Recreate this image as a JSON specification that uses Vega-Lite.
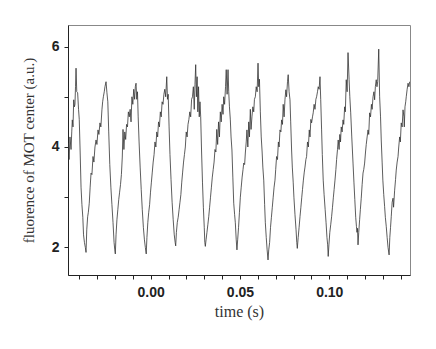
{
  "$schema": "https://vega.github.io/schema/vega-lite/v6.json",
  "width": 342,
  "height": 250,
  "autosize": {"type": "none"},
  "padding": {"left": 68, "top": 25, "right": 26, "bottom": 74},
  "background": "white",
  "config": {
    "view": {"stroke": "#888888", "strokeWidth": 1},
    "axis": {"grid": false, "domainColor": "#222222", "tickColor": "#222222", "labelColor": "#222222", "titleColor": "#333333"}
  },
  "data": {"values": [
    {"t": -0.0462, "v": 4.08}, {"t": -0.0457, "v": 3.75}, {"t": -0.0452, "v": 4.2}, {"t": -0.0446, "v": 3.95}, {"t": -0.0442, "v": 4.3}, {"t": -0.0439, "v": 4.54}, {"t": -0.0435, "v": 4.4}, {"t": -0.0431, "v": 4.94}, {"t": -0.0427, "v": 4.8}, {"t": -0.0424, "v": 4.85}, {"t": -0.0421, "v": 5.2}, {"t": -0.0418, "v": 5.57},
    {"t": -0.0414, "v": 5.1}, {"t": -0.0409, "v": 5.08}, {"t": -0.0404, "v": 4.75}, {"t": -0.0400, "v": 4.55}, {"t": -0.0395, "v": 3.9}, {"t": -0.0390, "v": 3.2}, {"t": -0.0385, "v": 2.85}, {"t": -0.0380, "v": 2.6}, {"t": -0.0376, "v": 2.25}, {"t": -0.0371, "v": 2.1}, {"t": -0.0366, "v": 2.0}, {"t": -0.0362, "v": 1.9},
    {"t": -0.0358, "v": 2.35}, {"t": -0.0353, "v": 2.61}, {"t": -0.0349, "v": 2.7}, {"t": -0.0344, "v": 2.88}, {"t": -0.0339, "v": 3.2}, {"t": -0.0334, "v": 3.48}, {"t": -0.0329, "v": 3.45}, {"t": -0.0323, "v": 3.81}, {"t": -0.0318, "v": 3.7}, {"t": -0.0312, "v": 4.0}, {"t": -0.0306, "v": 4.14}, {"t": -0.0301, "v": 4.05}, {"t": -0.0295, "v": 4.34}, {"t": -0.0290, "v": 4.25}, {"t": -0.0284, "v": 4.48}, {"t": -0.0279, "v": 4.4}, {"t": -0.0273, "v": 4.74}, {"t": -0.0269, "v": 4.9}, {"t": -0.0265, "v": 5.0}, {"t": -0.0260, "v": 5.1}, {"t": -0.0256, "v": 5.2}, {"t": -0.0250, "v": 5.3}, {"t": -0.0245, "v": 5.08}, {"t": -0.0240, "v": 4.9}, {"t": -0.0235, "v": 4.3}, {"t": -0.0229, "v": 3.65}, {"t": -0.0223, "v": 3.2}, {"t": -0.0217, "v": 2.85}, {"t": -0.0211, "v": 2.5}, {"t": -0.0205, "v": 2.1}, {"t": -0.0201, "v": 1.95}, {"t": -0.0198, "v": 1.87},
    {"t": -0.0194, "v": 2.25}, {"t": -0.0189, "v": 2.55}, {"t": -0.0184, "v": 2.75}, {"t": -0.0179, "v": 2.95}, {"t": -0.0174, "v": 3.1}, {"t": -0.0169, "v": 3.25}, {"t": -0.0164, "v": 3.45}, {"t": -0.0159, "v": 3.8}, {"t": -0.0155, "v": 4.35}, {"t": -0.0150, "v": 3.95}, {"t": -0.0145, "v": 4.3}, {"t": -0.0140, "v": 4.15}, {"t": -0.0135, "v": 4.45}, {"t": -0.0130, "v": 4.4}, {"t": -0.0125, "v": 4.7}, {"t": -0.0120, "v": 4.6}, {"t": -0.0115, "v": 4.75}, {"t": -0.0110, "v": 4.5}, {"t": -0.0105, "v": 5.0}, {"t": -0.0100, "v": 4.85}, {"t": -0.0095, "v": 5.15}, {"t": -0.0090, "v": 4.95}, {"t": -0.0086, "v": 5.2}, {"t": -0.0082, "v": 5.27}, {"t": -0.0078, "v": 4.95}, {"t": -0.0074, "v": 5.1}, {"t": -0.0070, "v": 4.6}, {"t": -0.0065, "v": 4.1}, {"t": -0.0059, "v": 3.6}, {"t": -0.0053, "v": 3.15}, {"t": -0.0047, "v": 2.75}, {"t": -0.0041, "v": 2.4}, {"t": -0.0035, "v": 2.15}, {"t": -0.0030, "v": 2.0}, {"t": -0.0025, "v": 1.87},
    {"t": -0.0021, "v": 2.2}, {"t": -0.0016, "v": 2.5}, {"t": -0.0011, "v": 2.7}, {"t": -0.0006, "v": 2.85}, {"t": -0.0001, "v": 3.1}, {"t": 0.0004, "v": 3.3}, {"t": 0.0009, "v": 3.5}, {"t": 0.0014, "v": 3.7}, {"t": 0.0019, "v": 3.85}, {"t": 0.0024, "v": 4.1}, {"t": 0.0029, "v": 4.0}, {"t": 0.0034, "v": 4.3}, {"t": 0.0039, "v": 4.2}, {"t": 0.0044, "v": 4.5}, {"t": 0.0049, "v": 4.4}, {"t": 0.0054, "v": 4.7}, {"t": 0.0059, "v": 4.6}, {"t": 0.0064, "v": 4.9}, {"t": 0.0069, "v": 4.85}, {"t": 0.0074, "v": 5.05}, {"t": 0.0079, "v": 5.15}, {"t": 0.0084, "v": 5.0}, {"t": 0.0090, "v": 5.4}, {"t": 0.0094, "v": 4.95}, {"t": 0.0098, "v": 5.05}, {"t": 0.0103, "v": 4.4}, {"t": 0.0108, "v": 3.85}, {"t": 0.0114, "v": 3.35}, {"t": 0.0120, "v": 2.9}, {"t": 0.0126, "v": 2.55}, {"t": 0.0132, "v": 2.25}, {"t": 0.0137, "v": 2.1}, {"t": 0.0140, "v": 2.03},
    {"t": 0.0144, "v": 2.3}, {"t": 0.0149, "v": 2.5}, {"t": 0.0154, "v": 2.6}, {"t": 0.0159, "v": 2.75}, {"t": 0.0164, "v": 2.9}, {"t": 0.0169, "v": 3.05}, {"t": 0.0174, "v": 3.3}, {"t": 0.0179, "v": 3.5}, {"t": 0.0184, "v": 3.7}, {"t": 0.0189, "v": 3.85}, {"t": 0.0194, "v": 4.0}, {"t": 0.0199, "v": 4.3}, {"t": 0.0204, "v": 4.2}, {"t": 0.0209, "v": 4.45}, {"t": 0.0214, "v": 4.55}, {"t": 0.0219, "v": 4.7}, {"t": 0.0224, "v": 4.6}, {"t": 0.0229, "v": 4.95}, {"t": 0.0234, "v": 5.0}, {"t": 0.0239, "v": 5.2}, {"t": 0.0244, "v": 4.75}, {"t": 0.0248, "v": 5.25}, {"t": 0.0252, "v": 5.64}, {"t": 0.0256, "v": 5.0}, {"t": 0.0260, "v": 5.4}, {"t": 0.0264, "v": 4.7}, {"t": 0.0268, "v": 5.2}, {"t": 0.0272, "v": 4.6}, {"t": 0.0276, "v": 4.9}, {"t": 0.0280, "v": 4.6}, {"t": 0.0285, "v": 3.9}, {"t": 0.0290, "v": 3.3}, {"t": 0.0295, "v": 2.8}, {"t": 0.0300, "v": 2.4}, {"t": 0.0303, "v": 2.1}, {"t": 0.0306, "v": 2.02},
    {"t": 0.0310, "v": 2.15}, {"t": 0.0315, "v": 2.3}, {"t": 0.0320, "v": 2.45}, {"t": 0.0325, "v": 2.61}, {"t": 0.0330, "v": 2.8}, {"t": 0.0335, "v": 3.0}, {"t": 0.0340, "v": 3.2}, {"t": 0.0345, "v": 3.4}, {"t": 0.0350, "v": 3.55}, {"t": 0.0355, "v": 3.7}, {"t": 0.0360, "v": 3.95}, {"t": 0.0365, "v": 3.9}, {"t": 0.0370, "v": 4.35}, {"t": 0.0375, "v": 4.05}, {"t": 0.0380, "v": 4.5}, {"t": 0.0385, "v": 4.2}, {"t": 0.0390, "v": 4.7}, {"t": 0.0395, "v": 4.5}, {"t": 0.0400, "v": 4.85}, {"t": 0.0405, "v": 4.65}, {"t": 0.0409, "v": 5.0}, {"t": 0.0414, "v": 4.85}, {"t": 0.0419, "v": 5.2}, {"t": 0.0423, "v": 5.54}, {"t": 0.0428, "v": 5.05}, {"t": 0.0433, "v": 5.54}, {"t": 0.0437, "v": 5.1}, {"t": 0.0441, "v": 4.8}, {"t": 0.0446, "v": 4.54}, {"t": 0.0450, "v": 4.2}, {"t": 0.0455, "v": 3.94}, {"t": 0.0460, "v": 3.4}, {"t": 0.0465, "v": 2.88}, {"t": 0.0470, "v": 2.65}, {"t": 0.0474, "v": 2.49}, {"t": 0.0479, "v": 2.15}, {"t": 0.0483, "v": 1.95},
    {"t": 0.0487, "v": 2.15}, {"t": 0.0492, "v": 2.4}, {"t": 0.0497, "v": 2.7}, {"t": 0.0502, "v": 3.0}, {"t": 0.0507, "v": 3.2}, {"t": 0.0512, "v": 3.4}, {"t": 0.0517, "v": 3.55}, {"t": 0.0521, "v": 3.68}, {"t": 0.0526, "v": 3.65}, {"t": 0.0530, "v": 3.88}, {"t": 0.0535, "v": 4.1}, {"t": 0.0539, "v": 4.34}, {"t": 0.0544, "v": 4.0}, {"t": 0.0549, "v": 4.5}, {"t": 0.0553, "v": 4.2}, {"t": 0.0558, "v": 4.75}, {"t": 0.0562, "v": 4.35}, {"t": 0.0567, "v": 4.6}, {"t": 0.0572, "v": 4.8}, {"t": 0.0577, "v": 4.7}, {"t": 0.0581, "v": 4.95}, {"t": 0.0586, "v": 5.0}, {"t": 0.0591, "v": 5.2}, {"t": 0.0596, "v": 5.1}, {"t": 0.0601, "v": 5.67}, {"t": 0.0605, "v": 5.2}, {"t": 0.0609, "v": 5.35}, {"t": 0.0614, "v": 4.7}, {"t": 0.0619, "v": 4.2}, {"t": 0.0624, "v": 3.9}, {"t": 0.0628, "v": 3.6}, {"t": 0.0633, "v": 3.34}, {"t": 0.0638, "v": 2.85}, {"t": 0.0642, "v": 2.49}, {"t": 0.0647, "v": 2.2}, {"t": 0.0652, "v": 1.95}, {"t": 0.0657, "v": 1.75},
    {"t": 0.0661, "v": 1.95}, {"t": 0.0666, "v": 2.1}, {"t": 0.0671, "v": 2.4}, {"t": 0.0676, "v": 2.6}, {"t": 0.0681, "v": 2.8}, {"t": 0.0686, "v": 3.0}, {"t": 0.0691, "v": 3.2}, {"t": 0.0696, "v": 3.34}, {"t": 0.0700, "v": 3.55}, {"t": 0.0705, "v": 3.81}, {"t": 0.0710, "v": 3.75}, {"t": 0.0715, "v": 4.1}, {"t": 0.0719, "v": 4.0}, {"t": 0.0724, "v": 4.34}, {"t": 0.0729, "v": 4.3}, {"t": 0.0733, "v": 4.54}, {"t": 0.0738, "v": 4.45}, {"t": 0.0742, "v": 4.85}, {"t": 0.0747, "v": 4.6}, {"t": 0.0752, "v": 4.95}, {"t": 0.0757, "v": 5.14}, {"t": 0.0761, "v": 5.0}, {"t": 0.0766, "v": 5.3}, {"t": 0.0770, "v": 5.44}, {"t": 0.0775, "v": 5.1}, {"t": 0.0780, "v": 4.94}, {"t": 0.0784, "v": 4.5}, {"t": 0.0789, "v": 3.94}, {"t": 0.0793, "v": 3.6}, {"t": 0.0798, "v": 3.3}, {"t": 0.0802, "v": 3.0}, {"t": 0.0808, "v": 2.65}, {"t": 0.0814, "v": 2.35}, {"t": 0.0818, "v": 2.1}, {"t": 0.0821, "v": 1.98},
    {"t": 0.0826, "v": 2.2}, {"t": 0.0831, "v": 2.4}, {"t": 0.0836, "v": 2.61}, {"t": 0.0841, "v": 2.8}, {"t": 0.0846, "v": 3.0}, {"t": 0.0850, "v": 3.15}, {"t": 0.0855, "v": 3.34}, {"t": 0.0860, "v": 3.5}, {"t": 0.0864, "v": 3.6}, {"t": 0.0869, "v": 3.75}, {"t": 0.0873, "v": 3.81}, {"t": 0.0878, "v": 4.1}, {"t": 0.0883, "v": 4.0}, {"t": 0.0888, "v": 4.34}, {"t": 0.0892, "v": 4.2}, {"t": 0.0897, "v": 4.55}, {"t": 0.0901, "v": 4.48}, {"t": 0.0906, "v": 4.6}, {"t": 0.0910, "v": 4.68}, {"t": 0.0915, "v": 4.85}, {"t": 0.0920, "v": 4.75}, {"t": 0.0925, "v": 4.95}, {"t": 0.0929, "v": 5.0}, {"t": 0.0934, "v": 5.1}, {"t": 0.0938, "v": 5.2}, {"t": 0.0943, "v": 5.15}, {"t": 0.0948, "v": 5.4}, {"t": 0.0952, "v": 4.95}, {"t": 0.0957, "v": 4.34}, {"t": 0.0961, "v": 3.85}, {"t": 0.0966, "v": 3.34}, {"t": 0.0971, "v": 3.05}, {"t": 0.0977, "v": 2.75}, {"t": 0.0982, "v": 2.49}, {"t": 0.0987, "v": 2.2}, {"t": 0.0991, "v": 2.05}, {"t": 0.0994, "v": 1.82},
    {"t": 0.0998, "v": 2.05}, {"t": 0.1003, "v": 2.3}, {"t": 0.1008, "v": 2.45}, {"t": 0.1013, "v": 2.61}, {"t": 0.1018, "v": 2.8}, {"t": 0.1023, "v": 3.0}, {"t": 0.1027, "v": 3.15}, {"t": 0.1032, "v": 3.34}, {"t": 0.1037, "v": 3.55}, {"t": 0.1041, "v": 3.75}, {"t": 0.1046, "v": 3.95}, {"t": 0.1050, "v": 4.14}, {"t": 0.1055, "v": 3.95}, {"t": 0.1059, "v": 4.25}, {"t": 0.1063, "v": 4.1}, {"t": 0.1067, "v": 4.4}, {"t": 0.1072, "v": 4.3}, {"t": 0.1077, "v": 4.54}, {"t": 0.1081, "v": 4.45}, {"t": 0.1086, "v": 4.8}, {"t": 0.1090, "v": 4.7}, {"t": 0.1095, "v": 5.34}, {"t": 0.1100, "v": 5.1}, {"t": 0.1105, "v": 5.88}, {"t": 0.1111, "v": 5.34}, {"t": 0.1115, "v": 5.0}, {"t": 0.1120, "v": 4.68}, {"t": 0.1126, "v": 4.2}, {"t": 0.1133, "v": 3.68}, {"t": 0.1138, "v": 3.3}, {"t": 0.1143, "v": 2.95}, {"t": 0.1148, "v": 2.6}, {"t": 0.1152, "v": 2.42}, {"t": 0.1155, "v": 2.3}, {"t": 0.1158, "v": 2.38}, {"t": 0.1161, "v": 2.05},
    {"t": 0.1165, "v": 2.3}, {"t": 0.1170, "v": 2.55}, {"t": 0.1174, "v": 2.75}, {"t": 0.1179, "v": 2.98}, {"t": 0.1184, "v": 3.25}, {"t": 0.1189, "v": 3.48}, {"t": 0.1193, "v": 3.55}, {"t": 0.1198, "v": 3.68}, {"t": 0.1203, "v": 3.9}, {"t": 0.1207, "v": 4.05}, {"t": 0.1212, "v": 4.2}, {"t": 0.1217, "v": 4.34}, {"t": 0.1221, "v": 4.25}, {"t": 0.1226, "v": 4.68}, {"t": 0.1231, "v": 4.6}, {"t": 0.1236, "v": 4.85}, {"t": 0.1240, "v": 4.75}, {"t": 0.1245, "v": 5.0}, {"t": 0.1250, "v": 5.1}, {"t": 0.1254, "v": 4.94}, {"t": 0.1258, "v": 5.2}, {"t": 0.1263, "v": 5.34}, {"t": 0.1267, "v": 5.2}, {"t": 0.1271, "v": 5.3}, {"t": 0.1277, "v": 5.95}, {"t": 0.1282, "v": 5.0}, {"t": 0.1287, "v": 4.6}, {"t": 0.1291, "v": 4.14}, {"t": 0.1296, "v": 3.7}, {"t": 0.1300, "v": 3.34}, {"t": 0.1305, "v": 3.05}, {"t": 0.1310, "v": 2.81}, {"t": 0.1314, "v": 2.6}, {"t": 0.1319, "v": 2.42}, {"t": 0.1324, "v": 2.2}, {"t": 0.1329, "v": 2.0}, {"t": 0.1335, "v": 1.85},
    {"t": 0.1339, "v": 2.2}, {"t": 0.1343, "v": 2.4}, {"t": 0.1347, "v": 2.61}, {"t": 0.1352, "v": 2.9}, {"t": 0.1357, "v": 2.98}, {"t": 0.1360, "v": 2.8}, {"t": 0.1366, "v": 3.14}, {"t": 0.1371, "v": 3.35}, {"t": 0.1375, "v": 3.54}, {"t": 0.1380, "v": 3.7}, {"t": 0.1385, "v": 3.81}, {"t": 0.1389, "v": 4.0}, {"t": 0.1394, "v": 4.2}, {"t": 0.1398, "v": 4.1}, {"t": 0.1403, "v": 4.48}, {"t": 0.1408, "v": 4.4}, {"t": 0.1413, "v": 4.74}, {"t": 0.1418, "v": 4.6}, {"t": 0.1420, "v": 4.4}, {"t": 0.1424, "v": 4.8}, {"t": 0.1428, "v": 4.9}, {"t": 0.1431, "v": 5.0}, {"t": 0.1436, "v": 5.15}, {"t": 0.1441, "v": 5.27}, {"t": 0.1446, "v": 5.2}, {"t": 0.1450, "v": 5.3}
  ]},
  "mark": {"type": "line", "color": "#333333", "strokeWidth": 0.8, "clip": true, "interpolate": "linear"},
  "encoding": {
    "x": {
      "field": "t", "type": "quantitative",
      "scale": {"domain": [-0.0463, 0.1452], "nice": false, "zero": false},
      "axis": {
        "title": "time (s)",
        "values": [-0.04, -0.03, -0.02, -0.01, 0, 0.01, 0.02, 0.03, 0.04, 0.05, 0.06, 0.07, 0.08, 0.09, 0.1, 0.11, 0.12, 0.13, 0.14],
        "labelExpr": "abs(round(datum.value*100) % 5) == 0 ? format(datum.value, '.2f') : ''",
        "labelFont": "Liberation Sans", "labelFontWeight": "bold", "labelFontSize": 14,
        "labelPadding": 6, "tickSize": 4, "domainWidth": 1, "tickWidth": 1,
        "labelFlush": false, "labelOverlap": false,
        "titleFont": "Liberation Serif", "titleFontWeight": "normal", "titleFontSize": 16, "titlePadding": 4
      }
    },
    "y": {
      "field": "v", "type": "quantitative",
      "scale": {"domain": [1.45, 6.43], "nice": false, "zero": false},
      "axis": {
        "title": "fluorence of MOT center (a.u.)",
        "values": [2, 3, 4, 5, 6],
        "labelExpr": "datum.value % 2 == 0 ? format(datum.value, 'd') : ''",
        "labelFont": "Liberation Sans", "labelFontWeight": "bold", "labelFontSize": 14,
        "labelPadding": 5, "tickSize": 4, "domainWidth": 1, "tickWidth": 1,
        "labelFlush": false, "labelOverlap": false,
        "titleFont": "Liberation Serif", "titleFontWeight": "normal", "titleFontSize": 15, "titlePadding": 15
      }
    }
  }
}
